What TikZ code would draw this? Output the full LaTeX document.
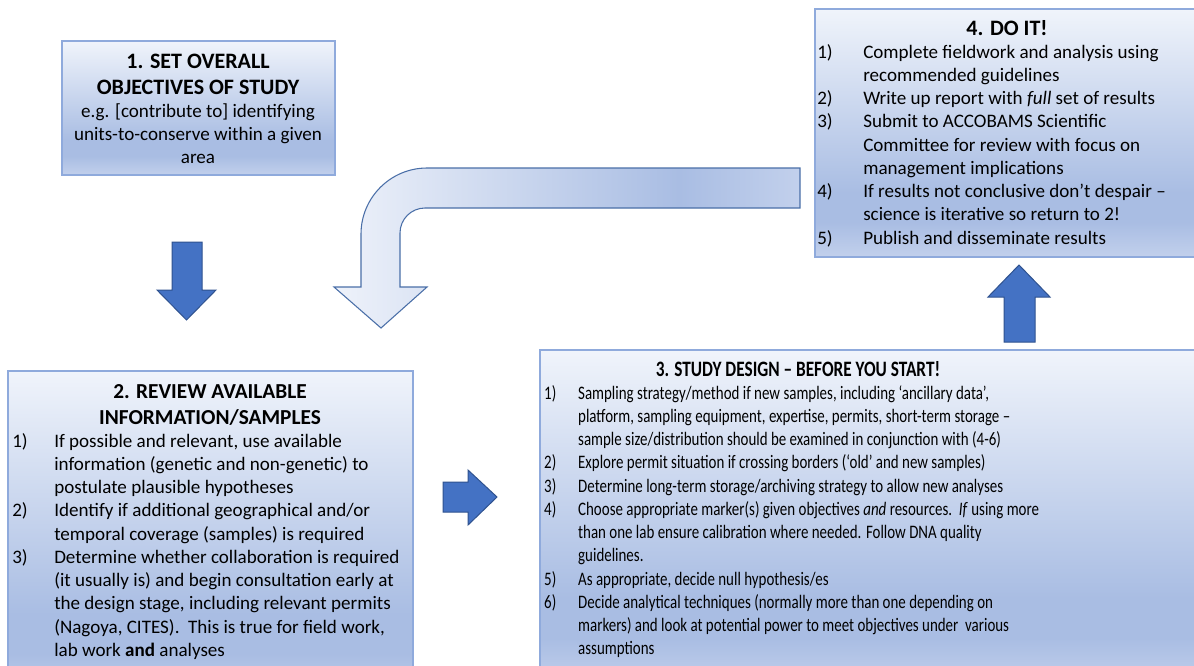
\documentclass[tikz,border=0pt]{standalone}
\usepackage{fontspec}
\setmainfont{Carlito}
\definecolor{paneTop}{HTML}{F0F4FB}
\definecolor{paneDark}{HTML}{A9BDE3}
\definecolor{paneLow}{HTML}{C2D0EC}
\definecolor{paneEdge}{HTML}{8FAADC}
\definecolor{arrowFill}{HTML}{4472C4}
\definecolor{arrowEdge}{HTML}{2F528F}
\definecolor{bendEdge}{HTML}{4A6FA8}
\definecolor{bendLeft}{HTML}{EEF2FA}
\pgfdeclareverticalshading{paneshade}{100bp}{color(0bp)=(paneLow); color(25bp)=(paneLow); color(32bp)=(paneDark); color(38bp)=(paneDark); color(75bp)=(paneTop); color(100bp)=(paneTop)}
\pgfdeclarehorizontalshading{bendshade}{100bp}{color(0bp)=(bendLeft); color(25bp)=(bendLeft); color(62bp)=(paneDark); color(75bp)=(paneLow); color(100bp)=(paneLow)}
\newcommand{\panefont}{\fontsize{14.3}{17.45}\selectfont}
\newcommand{\headfont}{\fontsize{16.5}{19.8}\selectfont\bfseries}
\tikzset{
  pane/.style={draw=paneEdge, line width=0.9pt, shading=paneshade},
  panetitle/.style={font=\headfont, anchor=base, inner sep=0pt},
  panelist/.style={font=\panefont, anchor=base west, inner sep=0pt},
  narrow/.style={xscale=0.784, transform shape},
  blockarrow/.style={fill=arrowFill, draw=arrowEdge, line width=0.75pt, line join=miter},
  bendarrow/.style={shading=bendshade, draw=bendEdge, line width=0.8pt, line join=miter}
}
\begin{document}
\begin{tikzpicture}[x=0.75pt,y=-0.75pt]
                \useasboundingbox (0,0) rectangle (1194,665);
                \clip (0,0) rectangle (1194,665);
                \fill [white] (0,0) rectangle (1194,665);

                % Drawing pane 1 (objectives)
                \draw [pane] (62,41) rectangle (335,175);
                \node [panetitle] (objectivestitle) at (198,68) {\begin{tabular}[t]{@{}c@{}}
                  1. SET OVERALL\\
                  OBJECTIVES OF STUDY
                \end{tabular}};
                \node [panelist, anchor=base] (objectivesbody) at (198,117) {\begin{tabular}[t]{@{}c@{}}
                  e.g. [contribute to] identifying\\
                  units-to-conserve within a given\\
                  area
                \end{tabular}};

                % Drawing pane 2 (review)
                \draw [pane] (8,371) rectangle (413,700);
                \node [panetitle, font=\fontsize{16}{20.2}\selectfont\bfseries] (reviewtitle) at (210,398) {\begin{tabular}[t]{@{}c@{}}
                  2. REVIEW AVAILABLE\\
                  INFORMATION/SAMPLES
                \end{tabular}};
                \node [panelist] (reviewlist) at (12,447) {\begin{tabular}[t]{@{}p{31.5pt}@{}l@{}}
                  1) & If possible and relevant, use available\\
                     & information (genetic and non-genetic) to\\
                     & postulate plausible hypotheses\\
                  2) & Identify if additional geographical and/or\\
                     & temporal coverage (samples) is required\\
                  3) & Determine whether collaboration is required\\
                     & (it usually is) and begin consultation early at\\
                     & the design stage, including relevant permits\\
                     & (Nagoya, CITES).\ \ This is true for field work,\\
                     & lab work \textbf{and} analyses
                \end{tabular}};

                % Drawing pane 3 (design)
                \draw [pane] (540,350) rectangle (1230,685);
                \node [panetitle, narrow] (designtitle) at (798,376) {3. STUDY DESIGN – BEFORE YOU START!};
                \node [panelist, narrow] (designlist) at (544,399) {\begin{tabular}[t]{@{}p{32.5pt}@{}l@{}}
                  1) & Sampling strategy/method if new samples, including ‘ancillary data’,\\
                     & platform, sampling equipment, expertise, permits, short-term storage –\\
                     & sample size/distribution should be examined in conjunction with (4-6)\\
                  2) & Explore permit situation if crossing borders (‘old’ and new samples)\\
                  3) & Determine long-term storage/archiving strategy to allow new analyses\\
                  4) & Choose appropriate marker(s) given objectives \textit{and} resources.\ \ \textit{If} using more\\
                     & than one lab ensure calibration where needed. Follow DNA quality\\
                     & guidelines.\\
                  5) & As appropriate, decide null hypothesis/es\\
                  6) & Decide analytical techniques (normally more than one depending on\\
                     & markers) and look at potential power to meet objectives under\ \ various\\
                     & assumptions
                \end{tabular}};

                % Drawing pane 4 (do it)
                \draw [pane] (815,9) rectangle (1230,257);
                \node [panetitle] (doittitle) at (1007,35) {4. DO IT!};
                \node [panelist] (doitlist) at (817,58) {\begin{tabular}[t]{@{}p{34.5pt}@{}l@{}}
                  1) & Complete fieldwork and analysis using\\
                     & recommended guidelines\\
                  2) & Write up report with \textit{full} set of results\\
                  3) & Submit to ACCOBAMS Scientific\\
                     & Committee for review with focus on\\
                     & management implications\\
                  4) & If results not conclusive don’t despair –\\
                     & science is iterative so return to 2!\\
                  5) & Publish and disseminate results
                \end{tabular}};

                % Drawing arrow 1 -> 2
                \draw [blockarrow] (172,242) -- (202,242) -- (202,290) -- (216,290) -- (186.5,320) -- (157,290) -- (172,290) -- cycle;

                % Drawing arrow 2 -> 3
                \draw [blockarrow] (443,482) -- (468,482) -- (468,470) -- (497,497) -- (468,525) -- (468,512) -- (443,512) -- cycle;

                % Drawing arrow 3 -> 4
                \draw [blockarrow] (1004,342) -- (1004,297) -- (988,297) -- (1019,265) -- (1050,297) -- (1035,297) -- (1035,342) -- cycle;

                % Drawing bent arrow 4 -> 2
                \draw [bendarrow] (381,328) -- (427,287) -- (400,287) -- (400,233)
                  .. controls (400,219.2) and (411.2,208) .. (425,208) -- (800,208) -- (800,168) -- (427,168)
                  .. controls (390.6,168) and (361,197.6) .. (361,234) -- (361,287) -- (334,287) -- cycle;
\end{tikzpicture}
\end{document}
